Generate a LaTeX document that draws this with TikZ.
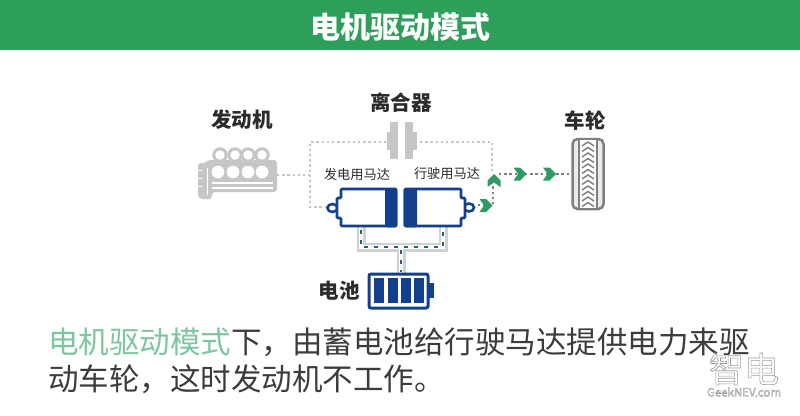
\documentclass[tikz,border=0pt]{standalone}
\usepackage{fontspec}
\setmainfont{Noto Sans CJK SC}
\definecolor{hgreen}{HTML}{2E9E5B}
\definecolor{lgreen}{HTML}{7CC6A0}
\definecolor{agreen}{HTML}{2F9B63}
\definecolor{mblue}{HTML}{123F8E}
\definecolor{egray}{HTML}{C6C6C6}
\definecolor{dgray}{HTML}{2B2B2B}
\definecolor{bodyc}{HTML}{3C3C3C}
\definecolor{wgray}{HTML}{7F7F7F}
\definecolor{wmgray}{HTML}{9A9A9A}
\tikzset{
 lbl/.style={font=\fontsize{20.5}{21}\selectfont\bfseries,text=dgray,inner sep=0pt},
 smlbl/.style={font=\fontsize{13.2}{14}\selectfont,text=dgray,inner sep=0pt},
 body/.style={font=\fontsize{30.5}{36}\selectfont,text=bodyc,inner sep=0pt,anchor=west},
 dotline/.style={draw=egray,line width=2.4pt,dash pattern=on 2.4pt off 2.8pt},
 dotdark/.style={draw=wgray,line width=2.4pt,dash pattern=on 2.4pt off 2.8pt},
 chevr/.pic={\fill[agreen] (-6.5,-6.5)--(0,-6.5)--(6.5,0)--(0,6.5)--(-6.5,6.5)--(-2,0)--cycle;},
 chevu/.pic={\fill[agreen] (-6.5,6.5)--(-6.5,0)--(0,-6.5)--(6.5,0)--(6.5,6.5)--(0,2)--cycle;},
 wire/.style={draw=egray!80!white,line width=9pt},
 wirein/.style={draw=white,line width=4.5pt},
 wirearrow/.style={draw=mblue!60!agreen,line width=1.2pt,dash pattern=on 4pt off 6pt},
 mline/.style={draw=mblue,line width=2.6pt,fill=white},
}
\begin{document}
\begin{tikzpicture}[x=1pt,y=-1pt]
\useasboundingbox (0,0) rectangle (800,415);
\fill[white] (0,0) rectangle (800,415);
\fill[hgreen] (0,0) rectangle (800,50);
\node[font=\fontsize{30}{30}\selectfont\bfseries,text=white,inner sep=0pt] (title) at (400,27) {电机驱动模式};
% labels
\node[lbl] (lengine) at (242,120) {发动机};
\node[lbl] (lclutch) at (401,103) {离合器};
\node[lbl] (lwheel) at (585,121) {车轮};
\node[lbl] (lbatt) at (339,291) {电池};
\node[smlbl] (lgen) at (357,174) {发电用马达};
\node[smlbl] (lmot) at (447,174) {行驶用马达};
% dotted routes
\coordinate (cl) at (387,142);
\coordinate (cr) at (420,142);
\coordinate (gl) at (327,207);
\coordinate (eng) at (277,175);
\coordinate (j1) at (310,142);
\coordinate (j2) at (310,207);
\coordinate (j3) at (310,175);
\coordinate (r1) at (492,142);
\coordinate (r2) at (492,172);
\draw[dotline] (gl)--(j2)--(j1)--(cl);
\draw[dotline] (eng)--(j3);
\draw[dotline] (cr)--(r1)--(r2);
\coordinate (m1) at (478,205);
\coordinate (m2) at (493,205);
\coordinate (wh) at (571,174);
\draw[dotdark] (m1)--(m2)--(493,186);
\draw[dotdark] (499,174)--(wh);
% engine
\foreach \x in {220,235,248,262}{
 \draw[egray,line width=3pt,fill=white] (\x,155) circle (6.2);
}
\fill[egray,rounded corners=3pt] (198,163)--(207,163)--(207,160)--(277,160)--(277,192)--(212,192)--(212,199)--(200,199)--(198,196)--cycle;
\foreach \x in {218,233,248,262}{\fill[white] (\x,172) circle (6.3);}
\draw[white,line width=1.4pt] (212,183)--(273,183);
\draw[white,line width=1.4pt] (212,188)--(273,188);
\draw[white,line width=1pt] (207,168)--(207,195);
\draw[white,line width=1pt] (198,170)--(202,170) (198,178)--(202,178) (198,186)--(202,186);
% clutch
\fill[egray] (390,122) rectangle (398,159);
\fill[egray] (387,132) rectangle (390,150);
\fill[egray] (405,122) rectangle (413,159);
\fill[egray] (413,132) rectangle (417,150);
% wires
\draw[wire] (361,226)--(361,247)--(443,247)--(443,226);
\draw[wire] (401,247)--(401,273);
\draw[wirein] (361,226)--(361,247)--(443,247)--(443,226);
\draw[wirein] (401,247)--(401,273);
\draw[wirearrow] (361,230)--(361,247)--(443,247)--(443,230);
\draw[wirearrow] (401,250)--(401,272);
% motors
\draw[mline] (332.5,208) ellipse (5 and 4);
\draw[mline,rounded corners=1pt] (337,198)--(341,198)--(341,189)--(396,189)--(396,226)--(341,226)--(341,218)--(337,218)--cycle;
\fill[mblue,rounded corners=2pt] (385,188)--(397.3,188)--(397.3,227.3)--(385,227.3)--cycle;
\draw[mline] (469,207.5) ellipse (5 and 4);
\draw[mline,rounded corners=1pt] (405,189)--(461,189)--(461,198)--(465,198)--(465,218)--(461,218)--(461,226)--(405,226)--cycle;
\fill[mblue,rounded corners=2pt] (403.7,188)--(417,188)--(417,227.3)--(403.7,227.3)--cycle;
% battery
\draw[mline,line width=3pt,rounded corners=2pt] (369,274) rectangle (428,308);
\fill[mblue] (429,283) rectangle (434,298);
\foreach \x in {374,388,401,414}{\fill[mblue] (\x,278) rectangle ++(10,25);}
% wheel
\draw[wgray,line width=2.5pt,fill=egray!35!white,rounded corners=5pt] (572.5,139) rectangle (603.5,209);
\fill[white] (579,140) rectangle (597,208);
\draw[wgray,line width=1.6pt] (579,139)--(579,209);
\draw[wgray,line width=1.6pt] (597,139)--(597,209);
\foreach \y in {142,147.5,...,204}{
 \draw[wgray,line width=1.5pt] (582,\y+4)--(588,\y)--(594,\y+4);
}
% arrows
\path (520,174) pic {chevr};
\path (549.5,174) pic {chevr};
\path (486,205.5) pic {chevr};
\path (494,180.5) pic {chevu};
% body text
\node[body] (t1) at (48,342) {{\color{lgreen}电机驱动模式}下，由蓄电池给行驶马达提供电力来驱};
\node[body] (t2) at (48,379) {动车轮，这时发动机不工作。};
% watermark
\node[font=\fontsize{35}{35}\selectfont,text=wmgray,inner sep=0pt] (wm) at (744,369) {\special{pdf:code 1 Tr 0.6 w}智电\special{pdf:code 0 Tr}};
\node[font=\fontsize{11.5}{12}\selectfont,text=wmgray,inner sep=0pt] (wm2) at (744,392) {\special{pdf:code 1 Tr 0.4 w}GeekNEV.com\special{pdf:code 0 Tr}};
\end{tikzpicture}
\end{document}
